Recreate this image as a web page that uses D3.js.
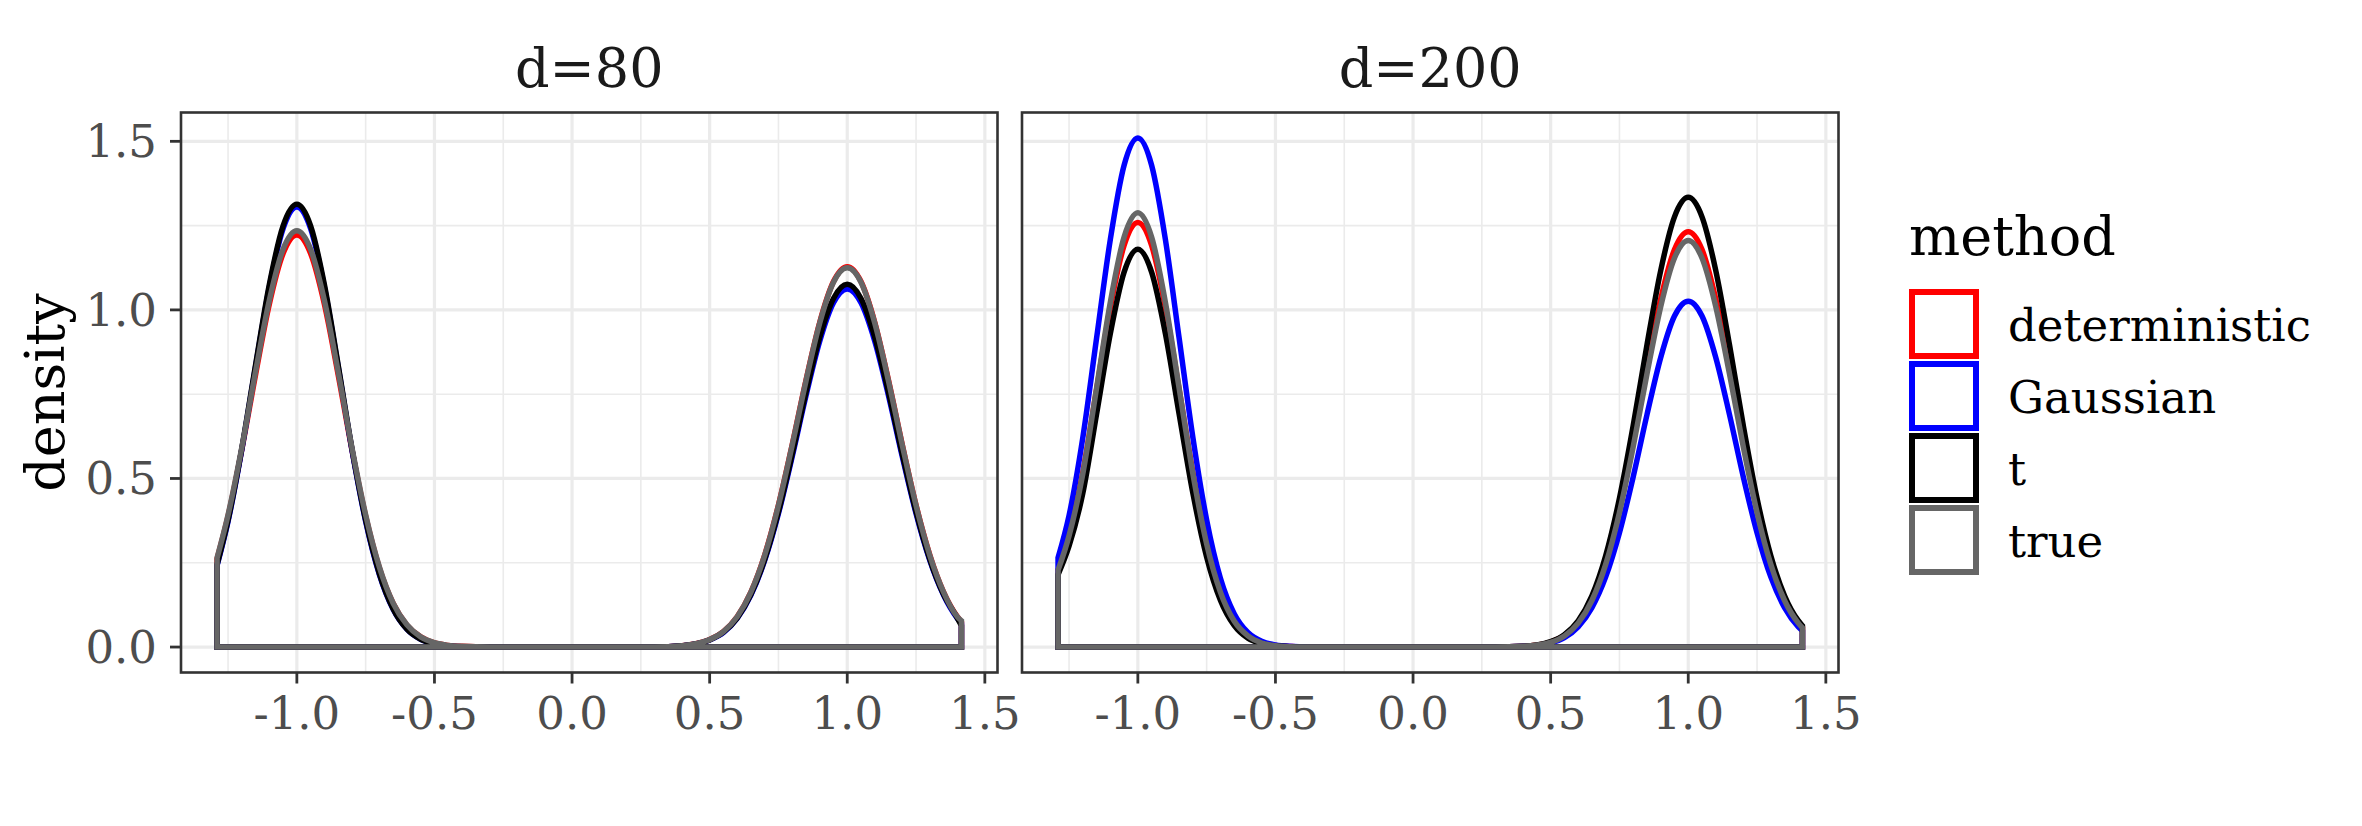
<!DOCTYPE html>
<html lang="en">
    <head>
        <meta charset="utf-8">
        <title>density by method</title>
        <script type="text/javascript" src="https://d3js.org/d3.v7.min.js"></script>
        <style type="text/css">
            body {
                margin: 0;
                background-color: #FFFFFF;
            }
            svg {
                display: block;
                font-family: "DejaVu Serif", serif;
            }
        </style>
    </head>
    <body>
        <svg width="2362" height="826"></svg>
        <script type="text/javascript">

            // ---- data ----
            const facets = ["d=80", "d=200"];
            const methods = ["deterministic", "Gaussian", "t", "true"];

            // x positions where the densities were read
            const xGrid = [-1.29, -1.25, -1.2, -1.15, -1.1, -1.05, -1, -0.95, -0.9, -0.85, -0.8, -0.75, -0.7, -0.65, -0.6, -0.55, -0.5, -0.45, -0.4,
                           -0.3, 0, 0.3,
                           0.4, 0.45, 0.5, 0.55, 0.6, 0.65, 0.7, 0.75, 0.8, 0.85, 0.9, 0.95, 1, 1.05, 1.1, 1.15, 1.2, 1.25, 1.3, 1.35, 1.4, 1.415];

            // d=80
            const d80Deterministic = [0.261, 0.388, 0.586, 0.808, 1.017, 1.167, 1.222, 1.167, 1.017, 0.808, 0.586, 0.388, 0.234, 0.129, 0.065, 0.030, 0.012, 0.005, 0.002,
                                      0, 0, 0,
                                      0.004, 0.010, 0.022, 0.046, 0.090, 0.163, 0.273, 0.421, 0.600, 0.791, 0.963, 1.084, 1.128, 1.084, 0.963, 0.791, 0.600, 0.421, 0.273, 0.163, 0.090, 0.074];
            const d80Gaussian = [0.242, 0.373, 0.586, 0.832, 1.068, 1.241, 1.305, 1.241, 1.068, 0.832, 0.586, 0.373, 0.215, 0.112, 0.053, 0.023, 0.009, 0.003, 0.001,
                                 0, 0, 0,
                                 0.004, 0.009, 0.021, 0.043, 0.085, 0.154, 0.257, 0.396, 0.565, 0.745, 0.907, 1.021, 1.062, 1.021, 0.907, 0.745, 0.565, 0.396, 0.257, 0.154, 0.085, 0.070];
            const d80T = [0.244, 0.376, 0.589, 0.837, 1.075, 1.249, 1.313, 1.249, 1.075, 0.837, 0.589, 0.376, 0.217, 0.113, 0.053, 0.023, 0.009, 0.003, 0.001,
                          0, 0, 0,
                          0.004, 0.009, 0.021, 0.044, 0.086, 0.156, 0.260, 0.401, 0.572, 0.755, 0.919, 1.034, 1.076, 1.034, 0.919, 0.755, 0.572, 0.401, 0.260, 0.156, 0.086, 0.064];
            const d80True = [0.264, 0.392, 0.592, 0.817, 1.028, 1.180, 1.235, 1.180, 1.028, 0.817, 0.592, 0.392, 0.237, 0.130, 0.066, 0.030, 0.013, 0.005, 0.002,
                             0, 0, 0,
                             0.004, 0.010, 0.022, 0.046, 0.090, 0.163, 0.272, 0.420, 0.599, 0.789, 0.961, 1.082, 1.125, 1.082, 0.961, 0.789, 0.599, 0.420, 0.272, 0.163, 0.090, 0.078];

            // d=200
            const d200Deterministic = [0.228, 0.335, 0.518, 0.764, 1.008, 1.191, 1.259, 1.191, 1.008, 0.764, 0.518, 0.314, 0.170, 0.083, 0.036, 0.014, 0.005, 0.002, 0,
                                       0, 0, 0,
                                       0.002, 0.006, 0.015, 0.034, 0.072, 0.141, 0.250, 0.407, 0.607, 0.827, 1.032, 1.179, 1.232, 1.179, 1.032, 0.827, 0.607, 0.407, 0.250, 0.141, 0.072, 0.058];
            const d200Gaussian = [0.265, 0.390, 0.621, 0.916, 1.209, 1.429, 1.510, 1.429, 1.209, 0.916, 0.621, 0.377, 0.204, 0.099, 0.043, 0.017, 0.006, 0.002, 0.001,
                                  0, 0, 0,
                                  0.002, 0.005, 0.012, 0.028, 0.060, 0.117, 0.208, 0.339, 0.505, 0.689, 0.859, 0.982, 1.026, 0.982, 0.859, 0.689, 0.505, 0.339, 0.208, 0.117, 0.060, 0.048];
            const d200T = [0.215, 0.300, 0.456, 0.691, 0.930, 1.112, 1.180, 1.112, 0.930, 0.691, 0.456, 0.267, 0.139, 0.064, 0.026, 0.010, 0.003, 0.001, 0,
                           0, 0, 0,
                           0.002, 0.006, 0.016, 0.037, 0.078, 0.152, 0.271, 0.441, 0.657, 0.896, 1.117, 1.276, 1.334, 1.276, 1.117, 0.896, 0.657, 0.441, 0.271, 0.152, 0.078, 0.063];
            const d200True = [0.228, 0.330, 0.514, 0.768, 1.023, 1.216, 1.288, 1.216, 1.023, 0.768, 0.514, 0.306, 0.163, 0.077, 0.033, 0.012, 0.004, 0.001, 0,
                              0, 0, 0,
                              0.002, 0.006, 0.014, 0.033, 0.071, 0.138, 0.245, 0.399, 0.594, 0.810, 1.010, 1.154, 1.206, 1.154, 1.010, 0.810, 0.594, 0.399, 0.245, 0.138, 0.071, 0.057];

            // tick labels
            const xTicks = [-1.0, -0.5, 0.0, 0.5, 1.0, 1.5];
            const xMinor = [-1.25, -0.75, -0.25, 0.25, 0.75, 1.25];
            const yTicks = [0.0, 0.5, 1.0, 1.5];
            const yMinor = [0.25, 0.75, 1.25];

            // series per facet, in method order (true drawn last)
            const seriesByFacet = [
                [d80Deterministic, d80Gaussian, d80T, d80True],
                [d200Deterministic, d200Gaussian, d200T, d200True]
            ];

            // R prints a plain hyphen, not the unicode minus d3 uses
            const fmt = v => d3.format(".1f")(v).replace("\u2212", "-");

            // ---- layout ----
            const svg = d3.select("svg");
            const colors = d3.scaleOrdinal()
                .domain(methods)
                .range(["#FF0000", "#0000FF", "#000000", "#666666"]);

            const panelW = 816.5;
            const panelH = 560;
            const panelTop = 112.5;
            const panelLefts = [181, 1022];

            // scales, expanded like ggplot does
            const x = d3.scaleLinear().domain([-1.421, 1.546]).range([0, panelW]);
            const y = d3.scaleLinear().domain([-0.0755, 1.5855]).range([panelH, 0]);

            // outline of the density: curve on top, baseline at 0, closed
            const area = d3.area()
                .x((d, i) => x(xGrid[i]))
                .y0(y(0))
                .y1(d => y(d))
                .curve(d3.curveMonotoneX);

            facets.forEach(function (facet, f) {
                const g = svg.append("g")
                    .attr("transform", "translate(" + panelLefts[f] + "," + panelTop + ")");

                // minor grid
                g.selectAll(".xminor").data(xMinor).enter().append("line")
                    .attr("x1", d => x(d)).attr("x2", d => x(d))
                    .attr("y1", 0).attr("y2", panelH)
                    .attr("stroke", "#EBEBEB").attr("stroke-width", 1.6);
                g.selectAll(".yminor").data(yMinor).enter().append("line")
                    .attr("x1", 0).attr("x2", panelW)
                    .attr("y1", d => y(d)).attr("y2", d => y(d))
                    .attr("stroke", "#EBEBEB").attr("stroke-width", 1.6);

                // major grid
                g.selectAll(".xmajor").data(xTicks).enter().append("line")
                    .attr("x1", d => x(d)).attr("x2", d => x(d))
                    .attr("y1", 0).attr("y2", panelH)
                    .attr("stroke", "#EBEBEB").attr("stroke-width", 3.2);
                g.selectAll(".ymajor").data(yTicks).enter().append("line")
                    .attr("x1", 0).attr("x2", panelW)
                    .attr("y1", d => y(d)).attr("y2", d => y(d))
                    .attr("stroke", "#EBEBEB").attr("stroke-width", 3.2);

                // density outlines
                g.selectAll("path.density")
                    .data(seriesByFacet[f])
                    .enter()
                    .append("path")
                    .attr("class", "density")
                    .attr("d", area)
                    .attr("fill", "none")
                    .attr("stroke", (d, i) => colors(methods[i]))
                    .attr("stroke-width", 5.5)
                    .attr("stroke-linejoin", "miter");

                // panel border
                g.append("rect")
                    .attr("x", 0).attr("y", 0)
                    .attr("width", panelW).attr("height", panelH)
                    .attr("fill", "none")
                    .attr("stroke", "#333333")
                    .attr("stroke-width", 2.6);

                // x axis ticks and labels
                g.selectAll(".xtick").data(xTicks).enter().append("line")
                    .attr("x1", d => x(d)).attr("x2", d => x(d))
                    .attr("y1", panelH).attr("y2", panelH + 11)
                    .attr("stroke", "#333333").attr("stroke-width", 2.8);
                g.selectAll(".xlab").data(xTicks).enter().append("text")
                    .attr("x", d => x(d))
                    .attr("y", panelH + 56)
                    .attr("text-anchor", "middle")
                    .attr("font-size", 45)
                    .attr("fill", "#4D4D4D")
                    .text(d => fmt(d));

                // strip title
                svg.append("text")
                    .attr("x", panelLefts[f] + panelW / 2)
                    .attr("y", 87)
                    .attr("text-anchor", "middle")
                    .attr("font-size", 54)
                    .attr("fill", "#1A1A1A")
                    .text(facet);
            });

            // y axis only on the first panel
            const yAxis = svg.append("g")
                .attr("transform", "translate(" + panelLefts[0] + "," + panelTop + ")");
            yAxis.selectAll(".ytick").data(yTicks).enter().append("line")
                .attr("x1", -11).attr("x2", 0)
                .attr("y1", d => y(d)).attr("y2", d => y(d))
                .attr("stroke", "#333333").attr("stroke-width", 2.8);
            yAxis.selectAll(".ylab").data(yTicks).enter().append("text")
                .attr("x", -24)
                .attr("y", d => y(d) + 16)
                .attr("text-anchor", "end")
                .attr("font-size", 45)
                .attr("fill", "#4D4D4D")
                .text(d => fmt(d));

            // y axis title
            svg.append("text")
                .attr("transform", "translate(64," + (panelTop + panelH / 2) + ") rotate(-90)")
                .attr("text-anchor", "middle")
                .attr("font-size", 54)
                .attr("fill", "#000000")
                .text("density");

            // ---- legend ----
            const legend = svg.append("g").attr("transform", "translate(1909,0)");
            legend.append("text")
                .attr("x", 0).attr("y", 255)
                .attr("font-size", 54)
                .attr("fill", "#000000")
                .text("method");

            const keys = legend.selectAll("g.key")
                .data(methods)
                .enter()
                .append("g")
                .attr("class", "key")
                .attr("transform", (d, i) => "translate(0," + (289 + i * 72) + ")");
            keys.append("rect")
                .attr("x", 3).attr("y", 3)
                .attr("width", 64).attr("height", 64)
                .attr("fill", "none")
                .attr("stroke", d => colors(d))
                .attr("stroke-width", 6);
            keys.append("text")
                .attr("x", 99)
                .attr("y", 35 + 17)
                .attr("font-size", 45)
                .attr("fill", "#000000")
                .text(d => d);

        </script>
    </body>
</html>
